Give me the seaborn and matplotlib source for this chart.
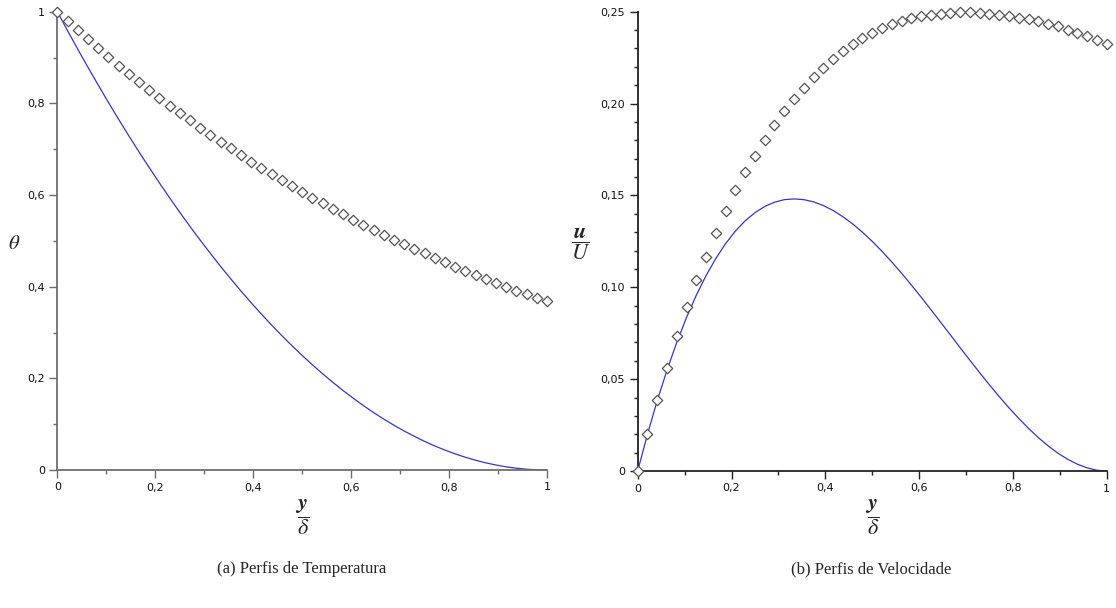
import matplotlib
matplotlib.use("Agg")
import matplotlib.pyplot as plt
from matplotlib.ticker import FixedLocator, MultipleLocator
import seaborn as sns

# ---- data ----
eta = [i / 48 for i in range(49)]

theta_line = [1.0000, 0.9588, 0.9184, 0.8789, 0.8403, 0.8025, 0.7656, 0.7296, 0.6944, 0.6602,
              0.6267, 0.5942, 0.5625, 0.5317, 0.5017, 0.4727, 0.4444, 0.4171, 0.3906, 0.3650,
              0.3403, 0.3164, 0.2934, 0.2713, 0.2500, 0.2296, 0.2101, 0.1914, 0.1736, 0.1567,
              0.1406, 0.1254, 0.1111, 0.0977, 0.0851, 0.0734, 0.0625, 0.0525, 0.0434, 0.0352,
              0.0278, 0.0213, 0.0156, 0.0109, 0.0069, 0.0039, 0.0017, 0.0004, 0.0000]

theta_pts = [1.0000, 0.9794, 0.9592, 0.9394, 0.9200, 0.9011, 0.8825, 0.8643, 0.8465, 0.8290,
             0.8119, 0.7952, 0.7788, 0.7627, 0.7470, 0.7316, 0.7165, 0.7017, 0.6873, 0.6731,
             0.6592, 0.6456, 0.6323, 0.6193, 0.6065, 0.5940, 0.5817, 0.5698, 0.5580, 0.5465,
             0.5353, 0.5242, 0.5134, 0.5028, 0.4925, 0.4823, 0.4724, 0.4626, 0.4531, 0.4437,
             0.4346, 0.4256, 0.4169, 0.4083, 0.3998, 0.3916, 0.3835, 0.3756, 0.3679]

u_line = [0.0000, 0.0200, 0.0383, 0.0549, 0.0700, 0.0836, 0.0957, 0.1064, 0.1157, 0.1238,
          0.1306, 0.1362, 0.1406, 0.1440, 0.1463, 0.1477, 0.1481, 0.1477, 0.1465, 0.1445,
          0.1418, 0.1384, 0.1345, 0.1300, 0.1250, 0.1196, 0.1138, 0.1077, 0.1013, 0.0947,
          0.0879, 0.0810, 0.0741, 0.0671, 0.0603, 0.0535, 0.0469, 0.0405, 0.0344, 0.0286,
          0.0232, 0.0182, 0.0137, 0.0097, 0.0064, 0.0037, 0.0017, 0.0004, 0.0000]

u_pts = [0.0000, 0.0204, 0.0388, 0.0560, 0.0733, 0.0893, 0.1038, 0.1166, 0.1294, 0.1413,
         0.1527, 0.1625, 0.1716, 0.1804, 0.1884, 0.1958, 0.2025, 0.2086, 0.2144, 0.2196,
         0.2243, 0.2286, 0.2324, 0.2356, 0.2386, 0.2411, 0.2432, 0.2449, 0.2463, 0.2475,
         0.2484, 0.2490, 0.2494, 0.2496, 0.2496, 0.2494, 0.2490, 0.2484, 0.2477, 0.2468,
         0.2458, 0.2447, 0.2435, 0.2421, 0.2402, 0.2385, 0.2366, 0.2346, 0.2325]

x_ticks = [0, 0.2, 0.4, 0.6, 0.8, 1.0]
x_labels = ["0", "0,2", "0,4", "0,6", "0,8", "1"]
theta_ticks = [0, 0.2, 0.4, 0.6, 0.8, 1.0]
theta_labels = ["0", "0,2", "0,4", "0,6", "0,8", "1"]
u_ticks = [0, 0.05, 0.10, 0.15, 0.20, 0.25]
u_labels = ["0", "0,05", "0,10", "0,15", "0,20", "0,25"]

captions = ["(a) Perfis de Temperatura", "(b) Perfis de Velocidade"]

# ---- style ----
sns.set_theme(style="white")
plt.rcParams["font.family"] = ["DejaVu Sans"]
plt.rcParams["mathtext.fontset"] = "stix"

LINE_COLOR = "#3535c8"
PT_EDGE = "#555555"

fig = plt.figure(figsize=(11.16, 6.08), dpi=100)
ax1 = fig.add_axes([57.3 / 1116, 1 - 470 / 608, (547 - 57.3) / 1116, (470 - 11.7) / 608])
ax2 = fig.add_axes([637.7 / 1116, 1 - 471 / 608, (1106.7 - 637.7) / 1116, (471 - 11.7) / 608])


def style_axis(ax, yticks, ylabels, ymax, yminor, spine_color):
    ax.set_xlim(0, 1)
    ax.set_ylim(0, ymax)
    for s in ["top", "right"]:
        ax.spines[s].set_visible(False)
    for s in ["left", "bottom"]:
        ax.spines[s].set_color(spine_color)
        ax.spines[s].set_linewidth(1.3)
    ax.xaxis.set_major_locator(FixedLocator(x_ticks))
    ax.set_xticklabels(x_labels)
    ax.yaxis.set_major_locator(FixedLocator(yticks))
    ax.set_yticklabels(ylabels)
    ax.xaxis.set_minor_locator(MultipleLocator(0.1))
    ax.yaxis.set_minor_locator(MultipleLocator(yminor))
    ax.tick_params(which="major", direction="out", length=6, width=1, color=spine_color,
                   labelsize=8, labelcolor="#111111", pad=3, bottom=True, left=True)
    ax.tick_params(which="minor", direction="out", length=3, width=1, color=spine_color,
                   bottom=True, left=True)
    ax.set_xlabel("")
    ax.set_ylabel("")
    ax.grid(False)


sns.lineplot(x=eta, y=theta_line, ax=ax1, color=LINE_COLOR, linewidth=0.9)
sns.scatterplot(x=eta, y=theta_pts, ax=ax1, marker="D", s=28, facecolor="white",
                edgecolor=PT_EDGE, linewidth=0.9, clip_on=False, zorder=3)
style_axis(ax1, theta_ticks, theta_labels, 1.0, 0.1, "#6e6e6e")

sns.lineplot(x=eta, y=u_line, ax=ax2, color=LINE_COLOR, linewidth=0.9)
sns.scatterplot(x=eta, y=u_pts, ax=ax2, marker="D", s=28, facecolor="white",
                edgecolor=PT_EDGE, linewidth=0.9, clip_on=False, zorder=3)
style_axis(ax2, u_ticks, u_labels, 0.25, 0.01, "#222222")

# axis labels
fig.text(14 / 1116, 1 - 243 / 608, r"$\theta$", fontsize=15, ha="center", va="center")
fig.text(581 / 1116, 1 - 244 / 608, r"$\dfrac{\boldsymbol{u}}{U}$", fontsize=16,
         ha="center", va="center")
fig.text(302 / 1116, 1 - 517 / 608, r"$\dfrac{\boldsymbol{y}}{\delta}$", fontsize=16,
         ha="center", va="center")
fig.text(872 / 1116, 1 - 517 / 608, r"$\dfrac{\boldsymbol{y}}{\delta}$", fontsize=16,
         ha="center", va="center")

# captions
fig.text(302 / 1116, 1 - 569 / 608, captions[0], fontsize=12, ha="center", va="center",
         family="Liberation Serif")
fig.text(871 / 1116, 1 - 569 / 608, captions[1], fontsize=12, ha="center", va="center",
         family="Liberation Serif")

fig.savefig("out.png", dpi=100)
